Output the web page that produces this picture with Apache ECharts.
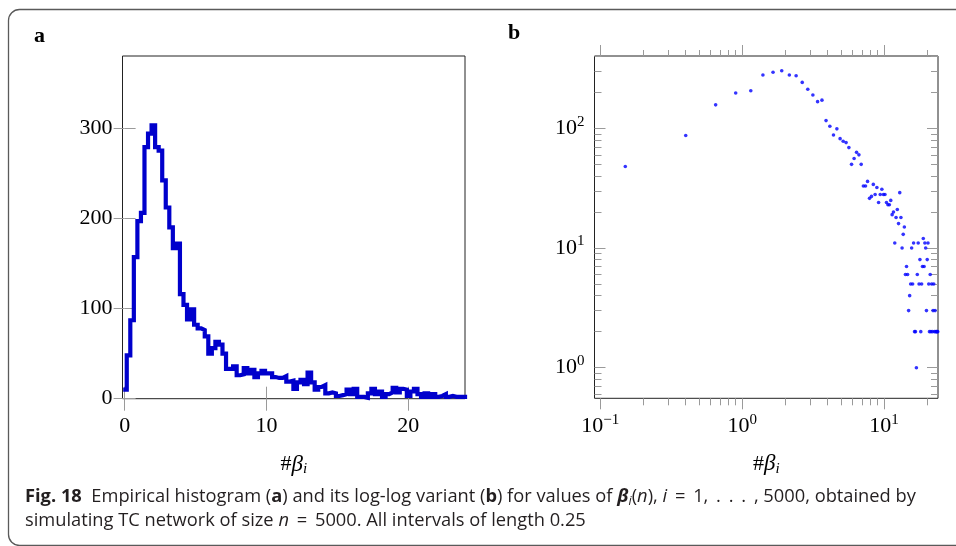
<!DOCTYPE html>
<html><head><meta charset="utf-8">
<script src="https://cdn.jsdelivr.net/npm/echarts@6/dist/echarts.min.js"></script>
<style>html,body{margin:0;padding:0;background:#fff}#c{width:956px;height:546px}</style>
</head><body><div id="c"></div>
<script>
// ---- data ----
const BIN_START = -0.1;      // left edge of first interval
const BIN_WIDTH = 0.25;      // all intervals of length 0.25
const counts = [10,
  48, 87, 157, 197, 206, 279, 294, 303, 279, 275,
  242, 212, 190, 167, 172, 116, 104, 88, 99, 82,
  78, 76, 69, 50, 56, 63, 60, 50, 33, 33,
  36, 26, 27, 34, 28, 32, 24, 28, 31, 28,
  28, 24, 23, 23, 25, 19, 20, 11, 18, 21,
  16, 29, 18, 10, 13, 15, 6, 7, 6, 3,
  4, 5, 10, 5, 11, 2, 2, 1, 6, 11,
  5, 8, 2, 5, 7, 12, 7, 11, 10, 3,
  8, 11, 5, 2, 6, 2, 5, 2, 3, 5,
  2, 3, 2, 2, 2, 2];
const xTicksA = [0, 10, 20];
const yTicksA = [0, 100, 200, 300];
const xTicksB = [0.1, 1, 10];
const yTicksB = [1, 10, 100];
const xMinorB = [0.2,0.3,0.4,0.5,0.6,0.7,0.8,0.9,2,3,4,5,6,7,8,9,20];
const yMinorB = [0.6,0.7,0.8,0.9,2,3,4,5,6,7,8,9,20,30,40,50,60,70,80,90,200,300,400];

// ---- build ----
const histData = counts.map((c, k) => [BIN_START + k * BIN_WIDTH, c]);
histData.push([BIN_START + counts.length * BIN_WIDTH, counts[counts.length - 1]]);
const scatterData = [];
counts.forEach((c, k) => { const x = BIN_START + k * BIN_WIDTH; if (x > 0 && c > 0) scatterData.push([+x.toFixed(4), c]); });

const SERIF = 'Liberation Serif';
const TICK_COLOR = '#9a9a9a';
const labelStyle = { fontFamily: SERIF, fontSize: 22, color: '#000' };
const powRich = {
  m: { fontFamily: SERIF, fontSize: 22, color: '#000' },
  e: { fontFamily: SERIF, fontSize: 15, color: '#000', padding: [0, 0, 13, 0] }
};
function powFmt(v) {
  const e = Math.round(Math.log10(v));
  return '{m|10}{e|' + (e < 0 ? '\u2212' + (-e) : e) + '}';
}
const nameRich = {
  h: { fontFamily: SERIF, fontSize: 22, color: '#000' },
  g: { fontFamily: SERIF, fontSize: 23, fontStyle: 'italic', color: '#000' },
  s: { fontFamily: SERIF, fontSize: 15, fontStyle: 'italic', color: '#000', padding: [9, 0, 0, 0] }
};
const axisName = '{h|#}{g|\u03b2}{s|i}';
const nameStyle = { fontFamily: SERIF, fontSize: 22, color: '#000', rich: nameRich };

function axisBase(extra) {
  return Object.assign({
    axisLine: { show: false },
    splitLine: { show: false },
    minorTick: { show: false },
    minorSplitLine: { show: false }
  }, extra);
}

const xAxes = [
  axisBase({ gridIndex: 0, type: 'value', position: 'bottom', min: -0.15, max: 24,
    axisTick: { customValues: xTicksA, length: 12, inside: false, lineStyle: { color: TICK_COLOR } },
    axisLabel: Object.assign({ customValues: xTicksA, margin: 17 }, labelStyle),
    name: axisName, nameLocation: 'middle', nameGap: 54, nameTextStyle: nameStyle }),
  axisBase({ gridIndex: 0, type: 'value', position: 'top', min: -0.15, max: 24,
    axisTick: { customValues: xTicksA, length: 12, inside: false, lineStyle: { color: TICK_COLOR } },
    axisLabel: { show: false } }),
  axisBase({ gridIndex: 1, type: 'log', logBase: 10, position: 'bottom', min: 0.091, max: 24,
    axisTick: { customValues: xTicksB, length: 11, inside: false, lineStyle: { color: TICK_COLOR } },
    axisLabel: { customValues: xTicksB, margin: 14, formatter: powFmt, rich: powRich },
    name: axisName, nameLocation: 'middle', nameGap: 54, nameTextStyle: nameStyle }),
  axisBase({ gridIndex: 1, type: 'log', logBase: 10, position: 'bottom', min: 0.091, max: 24,
    axisTick: { customValues: xMinorB, length: 7, inside: false, lineStyle: { color: TICK_COLOR } },
    axisLabel: { show: false } }),
  axisBase({ gridIndex: 1, type: 'log', logBase: 10, position: 'top', min: 0.091, max: 24,
    axisTick: { customValues: xTicksB, length: 11, inside: false, lineStyle: { color: TICK_COLOR } },
    axisLabel: { show: false } }),
  axisBase({ gridIndex: 1, type: 'log', logBase: 10, position: 'top', min: 0.091, max: 24,
    axisTick: { customValues: xMinorB, length: 6, inside: false, lineStyle: { color: TICK_COLOR } },
    axisLabel: { show: false } })
];

const yAxes = [
  axisBase({ gridIndex: 0, type: 'value', position: 'left', min: 0, max: 380,
    axisTick: { customValues: yTicksA, length: 11, inside: true, lineStyle: { color: TICK_COLOR } },
    axisLabel: Object.assign({ customValues: yTicksA, margin: 10 }, labelStyle) }),
  axisBase({ gridIndex: 0, type: 'value', position: 'right', min: 0, max: 380,
    axisTick: { customValues: yTicksA, length: 11, inside: true, lineStyle: { color: TICK_COLOR } },
    axisLabel: { show: false } }),
  axisBase({ gridIndex: 1, type: 'log', logBase: 10, position: 'left', min: 0.555, max: 402,
    axisTick: { customValues: yTicksB, length: 11, inside: true, lineStyle: { color: TICK_COLOR } },
    axisLabel: { customValues: yTicksB, margin: 10, formatter: powFmt, rich: powRich } }),
  axisBase({ gridIndex: 1, type: 'log', logBase: 10, position: 'left', min: 0.555, max: 402,
    axisTick: { customValues: yMinorB, length: 7, inside: true, lineStyle: { color: TICK_COLOR } },
    axisLabel: { show: false } }),
  axisBase({ gridIndex: 1, type: 'log', logBase: 10, position: 'right', min: 0.555, max: 402,
    axisTick: { customValues: yTicksB, length: 11, inside: true, lineStyle: { color: TICK_COLOR } },
    axisLabel: { show: false } }),
  axisBase({ gridIndex: 1, type: 'log', logBase: 10, position: 'right', min: 0.555, max: 402,
    axisTick: { customValues: yMinorB, length: 7, inside: true, lineStyle: { color: TICK_COLOR } },
    axisLabel: { show: false } })
];

const CAP = 'Open Sans';
const CS = 18.3;
const capRich = {
  fb: { fontFamily: CAP, fontSize: CS, fontWeight: 'bold', fill: '#231f20' },
  b: { fontFamily: CAP, fontSize: CS, fontWeight: 'bold', fill: '#231f20' },
  i: { fontFamily: CAP, fontSize: CS, fontStyle: 'italic', fill: '#231f20' },
  bi: { fontFamily: CAP, fontSize: CS, fontStyle: 'italic', fontWeight: 'bold', fill: '#231f20' },
  sub: { fontFamily: CAP, fontSize: 12.5, fontStyle: 'italic', fill: '#231f20', padding: [8, 0, 0, 0] }
};
const TS = '\u2009';

const chart = echarts.init(document.getElementById('c'), null, { renderer: 'canvas' });
chart.setOption({
  animation: false,
  backgroundColor: '#fff',
  grid: [
    { left: 122.5, top: 56, width: 342.5, height: 342.7, show: true, borderColor: '#222', borderWidth: 1, backgroundColor: 'transparent' },
    { left: 594.5, top: 56, width: 343.5, height: 342.3, show: true, borderColor: '#222', borderWidth: 1, backgroundColor: 'transparent' }
  ],
  xAxis: xAxes,
  yAxis: yAxes,
  series: [
    { type: 'line', xAxisIndex: 0, yAxisIndex: 0, data: histData, step: 'end', symbol: 'none',
      lineStyle: { color: '#0000cc', width: 4.2, join: 'miter' }, z: 3 },
    { type: 'scatter', xAxisIndex: 2, yAxisIndex: 2, data: scatterData, symbolSize: 3.6,
      itemStyle: { color: '#0000ff' }, z: 3 }
  ],
  graphic: [
    { type: 'rect', shape: { x: 8.5, y: 9.5, width: 1000, height: 536, r: 11 },
      style: { fill: 'none', stroke: '#5a5a5a', lineWidth: 1.3 }, silent: true },
    { type: 'text', left: 34, top: 25, style: { text: 'a', font: 'bold 22px "Liberation Serif"', fill: '#000' } },
    { type: 'text', left: 508, top: 22, style: { text: 'b', font: 'bold 22px "Liberation Serif"', fill: '#000' } },
    { type: 'text', left: 25, top: 488, style: {
        text: '{fb|Fig. 18}  Empirical histogram ({b|a}) and its log-log variant ({b|b}) for values of {bi|\u03b2}{sub|i}({i|n}), {i|i}' + TS + ' =' + TS + ' 1, ' + TS + '.' + TS + ' .' + TS + ' .' + TS + ' , 5000, obtained by',
        font: CS + 'px "Open Sans"', fill: '#231f20', rich: capRich } },
    { type: 'text', left: 25, top: 512, style: {
        text: 'simulating TC network of size {i|n}' + TS + ' = ' + TS + '5000. All intervals of length 0.25',
        font: CS + 'px "Open Sans"', fill: '#231f20', rich: capRich } }
  ]
});
</script>
</body></html>
